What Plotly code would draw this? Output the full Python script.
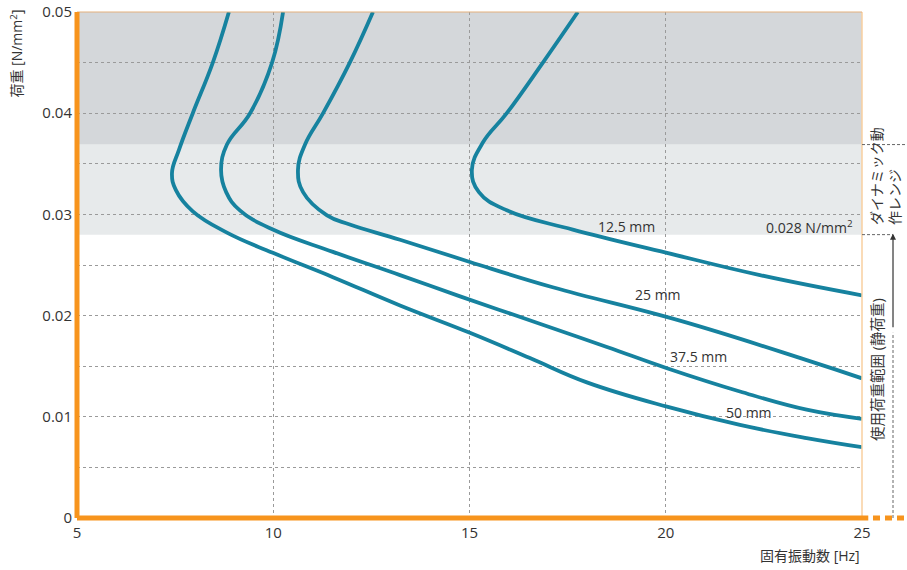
import plotly.graph_objects as go

# ---- data (natural frequency [Hz], load [N/mm2]) ----
hz_12_5 = [17.76, 16.87, 15.95, 15.34, 15.06, 15.24, 15.95, 17.63, 20.03, 22.40, 25.00]
load_12_5 = [0.0500, 0.0450, 0.0400, 0.0371, 0.0344, 0.0322, 0.0304, 0.0285, 0.0262, 0.0240, 0.0220]

hz_25 = [12.54, 11.95, 11.27, 10.81, 10.63, 10.76, 11.37, 11.95, 13.23, 15.01, 17.12, 20.36, 23.59, 25.00]
load_25 = [0.0500, 0.0450, 0.0400, 0.0369, 0.0344, 0.0322, 0.0299, 0.0290, 0.0275, 0.0253, 0.0228, 0.0195, 0.0156, 0.0138]

hz_37_5 = [10.25, 9.97, 9.41, 8.82, 8.67, 8.80, 9.15, 9.99, 11.52, 13.23, 14.76, 16.79, 18.50, 20.03, 21.89, 23.59, 25.00]
load_37_5 = [0.0500, 0.0450, 0.0400, 0.0369, 0.0344, 0.0322, 0.0304, 0.0285, 0.0263, 0.0240, 0.0219, 0.0192, 0.0169, 0.0148, 0.0125, 0.0107, 0.0098]

hz_50 = [8.87, 8.46, 7.95, 7.60, 7.42, 7.52, 7.95, 8.82, 9.99, 11.52, 13.23, 15.01, 16.54, 17.99, 20.03, 21.89, 23.59, 25.00]
load_50 = [0.0500, 0.0450, 0.0400, 0.0364, 0.0341, 0.0324, 0.0303, 0.0282, 0.0262, 0.0238, 0.0210, 0.0183, 0.0158, 0.0134, 0.0110, 0.0092, 0.0079, 0.0070]

series_names = ["12.5 mm", "25 mm", "37.5 mm", "50 mm"]
label_hz = [18.99, 19.81, 20.83, 22.11]
label_load = [0.0288, 0.0221, 0.0160, 0.0104]

x_ticks = [5, 10, 15, 20, 25]
y_ticks = [0, 0.005, 0.01, 0.015, 0.02, 0.025, 0.03, 0.035, 0.04, 0.045, 0.05]
y_ticktext = ["0", " ", "0.01", " ", "0.02", " ", "0.03", " ", "0.04", " ", "0.05"]

static_limit = 0.028      # 0.028 N/mm2
dynamic_limit = 0.0369    # upper end of dynamic range band

CURVE = "#16829f"
ORANGE = "#f7941d"
TXT = "#333333"
FONT = "Open Sans, Noto Sans CJK JP, sans-serif"

fig = go.Figure()
for xs, ys in [(hz_12_5, load_12_5), (hz_25, load_25), (hz_37_5, load_37_5), (hz_50, load_50)]:
    fig.add_trace(go.Scatter(
        x=xs, y=ys, mode="lines",
        line=dict(color=CURVE, width=3.8, shape="spline", smoothing=1.2),
        hoverinfo="skip", showlegend=False))

shapes = [
    # bands
    dict(type="rect", xref="x", yref="y", x0=5, x1=25, y0=static_limit, y1=dynamic_limit,
         fillcolor="#e7eaeb", line=dict(width=0), layer="below"),
    dict(type="rect", xref="x", yref="y", x0=5, x1=25, y0=dynamic_limit, y1=0.05,
         fillcolor="#d4d7da", line=dict(width=0), layer="below"),
    # frame
    dict(type="line", xref="paper", yref="paper", x0=1, x1=1, y0=0, y1=1,
         line=dict(color="#f9cf9f", width=1.5)),
    dict(type="line", xref="paper", yref="paper", x0=0, x1=1, y0=1, y1=1,
         line=dict(color="#e3b07c", width=1)),
    dict(type="line", xref="paper", yref="paper", x0=0, x1=1.008, y0=0, y1=0,
         line=dict(color=ORANGE, width=5)),
    dict(type="line", xref="paper", yref="paper", x0=1.014, x1=1.058, y0=0, y1=0,
         line=dict(color=ORANGE, width=5, dash="7px,5px")),
    dict(type="line", xref="paper", yref="paper", x0=0, x1=0, y0=0, y1=1,
         line=dict(color=ORANGE, width=5)),
    # right-side range markers
    dict(type="line", xref="paper", yref="y", x0=1, x1=1.0395, y0=static_limit, y1=static_limit,
         line=dict(color="#666", width=1, dash="3px,2px")),
    dict(type="line", xref="paper", yref="y", x0=1, x1=1.06, y0=dynamic_limit, y1=dynamic_limit,
         line=dict(color="#666", width=1, dash="3px,2px")),
    dict(type="line", xref="paper", yref="y", x0=1.0395, x1=1.0395, y0=0, y1=0.0183,
         line=dict(color="#666", width=1, dash="3px,2px")),
]

annotations = []
for name, lx, ly in zip(series_names, label_hz, label_load):
    annotations.append(dict(x=lx, y=ly, xref="x", yref="y", text=name, showarrow=False,
                            xanchor="center", yanchor="middle",
                            font=dict(size=14, color=TXT, family=FONT)))
annotations += [
    dict(x=24.82, y=0.0288, xref="x", yref="y", text="0.028 N/mm<sup>2</sup>", showarrow=False,
         xanchor="right", yanchor="middle", font=dict(size=14, color=TXT, family=FONT)),
    dict(x=-0.077, y=0.917, xref="paper", yref="paper", text="荷重 [N/mm<sup>2</sup>]",
         textangle=-90, showarrow=False, xanchor="center", yanchor="middle",
         font=dict(size=14, color=TXT, family=FONT)),
    dict(x=1.0, y=-0.075, xref="paper", yref="paper", text="固有振動数 [Hz]", showarrow=False,
         xanchor="right", yanchor="middle", font=dict(size=14, color=TXT, family=FONT)),
    dict(x=1.0306, y=0.676, xref="paper", yref="paper", text="ダイナミック動<br>作レンジ",
         textangle=-90, align="left", showarrow=False, xanchor="center", yanchor="middle",
         font=dict(size=14, color=TXT, family=FONT)),
    dict(x=1.0204, y=0.2925, xref="paper", yref="paper", text="使用荷重範囲 (静荷重)",
         textangle=-90, showarrow=False, xanchor="center", yanchor="middle",
         font=dict(size=14.5, color=TXT, family=FONT)),
    dict(x=1.0395, y=0.0281, xref="paper", yref="y", text="", showarrow=True,
         ax=0, ay=95, arrowhead=2, arrowsize=1, arrowwidth=1.2, arrowcolor="#333"),
]

fig.update_layout(
    width=907, height=570,
    margin=dict(l=77, r=45, t=12, b=52, autoexpand=False),
    paper_bgcolor="white", plot_bgcolor="white",
    shapes=shapes, annotations=annotations,
    font=dict(family=FONT, color=TXT, size=14),
    xaxis=dict(range=[5, 25], tickvals=x_ticks, showgrid=True, gridcolor="#9a9a9a",
               griddash="3px,3px", gridwidth=1, zeroline=False, showline=False, ticks="",
               tickfont=dict(size=15, color=TXT), ticklabelstandoff=4, automargin=False),
    yaxis=dict(range=[0, 0.05], tickvals=y_ticks, ticktext=y_ticktext, showgrid=True,
               gridcolor="#9a9a9a", griddash="3px,3px", gridwidth=1, zeroline=False,
               showline=False, ticks="", tickfont=dict(size=15, color=TXT), ticklabelstandoff=4,
               automargin=False),
)

fig.write_html("out.html", config={"displayModeBar": False},
               post_script="document.body.style.margin='0px';")
